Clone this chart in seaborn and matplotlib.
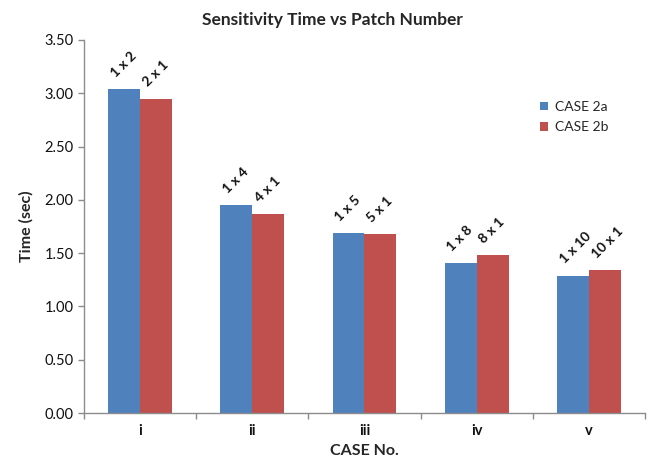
import matplotlib
matplotlib.use("Agg")
import matplotlib.pyplot as plt
import seaborn as sns
import pandas as pd
from matplotlib.ticker import FixedLocator, FormatStrFormatter

cases = ["i", "ii", "iii", "iv", "v"]
series = ["CASE 2a", "CASE 2b"]
time_2a = [3.04, 1.95, 1.69, 1.41, 1.29]
time_2b = [2.95, 1.87, 1.68, 1.48, 1.34]
labels_2a = ["1 x 2", "1 x 4", "1 x 5", "1 x 8", "1 x 10"]
labels_2b = ["2 x 1", "4 x 1", "5 x 1", "8 x 1", "10 x 1"]

df = pd.DataFrame({
    "case": cases * 2,
    "series": [series[0]] * len(cases) + [series[1]] * len(cases),
    "time": time_2a + time_2b,
    "label": labels_2a + labels_2b,
})

sns.set_theme(style="white")
plt.rcParams["font.family"] = ["Lato", "DejaVu Sans"]

fig = plt.figure(figsize=(6.49, 4.65), dpi=100)
ax = fig.add_axes([0.1294, 0.1118, 0.8644, 0.8022])

palette = {"CASE 2a": "#4F81BD", "CASE 2b": "#C0504D"}
sns.barplot(data=df, x="case", y="time", hue="series", order=cases,
            hue_order=series, palette=palette, width=0.57, saturation=1,
            edgecolor="none", ax=ax)

# rotated size labels on top of each bar
for container, labs in zip(ax.containers, [labels_2a, labels_2b]):
    for bar, lab in zip(container, labs):
        x = bar.get_x() + bar.get_width() / 2
        ax.annotate(lab, xy=(x, bar.get_height()), xytext=(-5, 7),
                    textcoords="offset points", rotation=45,
                    rotation_mode="anchor", ha="left", va="bottom",
                    fontsize=10, fontweight="bold", color="#111111")

ax.set_ylim(0, 3.5)
ax.set_xlim(-0.5, len(cases) - 0.5)
ax.yaxis.set_major_locator(FixedLocator([i * 0.5 for i in range(8)]))
ax.yaxis.set_major_formatter(FormatStrFormatter("%.2f"))

for side in ["top", "right"]:
    ax.spines[side].set_visible(False)
for side in ["left", "bottom"]:
    ax.spines[side].set_color("#8c8c8c")
    ax.spines[side].set_linewidth(1.0)

ax.tick_params(axis="y", which="major", direction="out", length=4,
               color="#8c8c8c", width=1, labelsize=10.5, left=True,
               labelcolor="#111111")
ax.tick_params(axis="x", which="major", length=0, labelsize=10.5,
               pad=8, labelcolor="#111111")
ax.xaxis.set_minor_locator(FixedLocator([i + 0.5 for i in range(-1, len(cases))]))
ax.tick_params(axis="x", which="minor", direction="out", length=4,
               color="#8c8c8c", width=1, bottom=True)
for t in ax.get_xticklabels():
    t.set_fontweight("bold")

ax.set_xlabel("CASE No.", fontsize=11.5, fontweight="bold", labelpad=4)
ax.set_ylabel("Time (sec)", fontsize=11.5, fontweight="bold", labelpad=8)
fig.suptitle("Sensitivity Time vs Patch Number", x=0.513, y=0.975,
             fontsize=12.5, fontweight="bold", va="top")

leg = ax.legend(loc="upper left", bbox_to_anchor=(0.79, 0.87), frameon=False,
                fontsize=10, handlelength=0.6, handleheight=0.6,
                handletextpad=0.5, labelspacing=0.6)

fig.savefig("out.png", dpi=100)
